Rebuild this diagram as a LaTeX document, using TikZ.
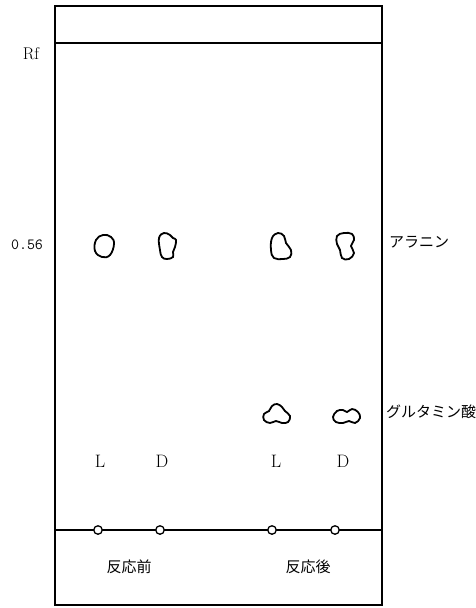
\documentclass[tikz,border=0pt]{standalone}
\usepackage{fontspec}
\newfontfamily\jpfont{Noto Sans CJK JP}
\begin{document}
\begin{tikzpicture}[x=1pt,y=-1pt,
  frame/.style={line width=1.7pt,black},
  spot/.style={line width=1.8pt,black},
  origin/.style={circle,draw,line width=1.3pt,fill=white,inner sep=0pt,minimum size=8.5pt},
  lbl/.style={font=\fontsize{17}{20}\selectfont,inner sep=0pt},
  jp/.style={font=\jpfont\fontsize{15}{18}\selectfont,inner sep=0pt},
  ld/.style={font=\fontsize{18}{21}\selectfont,inner sep=0pt}]
\useasboundingbox (0,0) rectangle (476,608);
% plate
\draw[frame] (55,6) rectangle (382,605);
\coordinate (fl) at (55,43);
\coordinate (fr) at (382,43);
\draw[frame] (fl) -- (fr);
\coordinate (bl) at (55,530);
\coordinate (br) at (382,530);
\draw[frame] (bl) -- (br);
% origins
\node[origin] (o1) at (98,530) {};
\node[origin] (o2) at (160,530) {};
\node[origin] (o3) at (272,530) {};
\node[origin] (o4) at (335,530) {};
% alanine spots
\draw[spot] plot[smooth cycle,tension=0.7] coordinates {(96,240) (103,235) (111,237) (114,244) (110,255) (102,257) (95,251)};
\draw[spot] plot[smooth cycle,tension=0.7] coordinates {(159,238) (164,233) (170,235) (173,238) (176,240) (175,247) (173,252) (173,257) (167,259) (162,257) (160,250)};
\draw[spot] plot[smooth cycle,tension=0.7] coordinates {(272,238) (278,233) (284,236) (286,243) (291,250) (290,257) (283,259) (274,258) (271,250)};
\draw[spot] plot[smooth cycle,tension=0.7] coordinates {(337,236) (344,233) (352,234) (354,240) (351,246) (354,253) (349,259) (342,258) (340,250) (337,244)};
% glutamic acid spots
\draw[spot] plot[smooth cycle,tension=0.7] coordinates {(264,420) (264,414) (269,411) (272,406) (277,404) (282,407) (285,411) (290,416) (288,422) (282,423) (276,421) (270,423)};
\draw[spot] plot[smooth cycle,tension=0.7] coordinates {(333,417) (337,411) (343,410) (347,412) (352,409) (358,412) (360,418) (355,423) (349,421) (343,423) (336,422)};
% labels
\node[lbl] (rf) at (31,54) {Rf};
\node[lbl,font=\ttfamily\fontsize{15.5}{18}\selectfont] (r56) at (27,245) {0.56};
\node[jp,anchor=west] (ala) at (389,242) {アラニン};
\node[jp,anchor=west] (glu) at (386,412) {グルタミン酸};
\node[ld] (l1) at (100,461) {L};
\node[ld] (d1) at (162,461) {D};
\node[ld] (l2) at (276,461) {L};
\node[ld] (d2) at (343,461) {D};
\node[jp] (pre) at (129,567) {反応前};
\node[jp] (post) at (308,567) {反応後};
\end{tikzpicture}
\end{document}
